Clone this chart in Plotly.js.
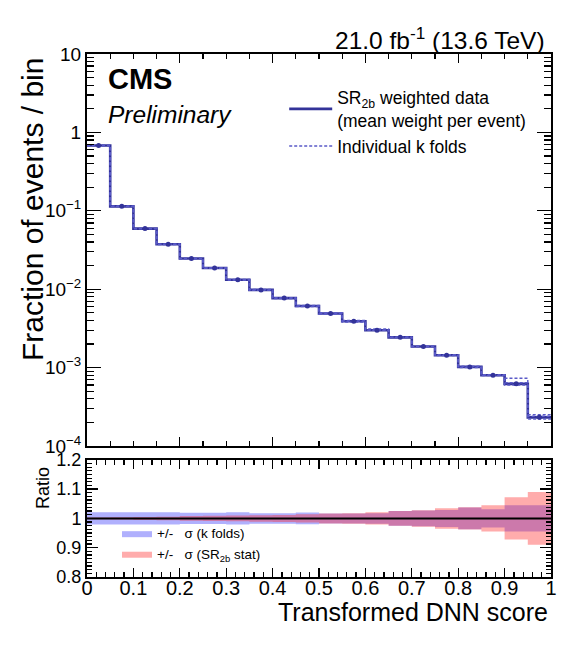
<!DOCTYPE html>
<html>
<head>
<meta charset="utf-8">
<script src="https://cdn.plot.ly/plotly-3.0.1.min.js"></script>
<style>html,body{margin:0;padding:0;background:#fff;}#chart{width:580px;height:654px;}</style>
</head>
<body>
<div id="chart"></div>
<script>
// ---- data ----
const binEdges = [0,0.05,0.1,0.15,0.2,0.25,0.3,0.35,0.4,0.45,0.5,0.55,0.6,0.65,0.7,0.75,0.8,0.85,0.9,0.95,1.0];
const meanFrac = [0.68,0.114,0.0593,0.0374,0.0246,0.0186,0.0132,0.0098,0.0077,0.0061,0.0049,0.0039,0.0030,0.00243,0.00186,0.00144,0.00102,0.00080,0.00062,0.000232];
const foldFrac1 = [0.675,0.115,0.0590,0.0376,0.0245,0.0187,0.0131,0.0099,0.0076,0.0062,0.0049,0.0039,0.0030,0.00245,0.00185,0.00145,0.00104,0.00081,0.00073,0.00024];
const foldFrac2 = [0.685,0.113,0.0596,0.0372,0.0247,0.0185,0.0133,0.0097,0.0078,0.0060,0.0050,0.0038,0.0031,0.00241,0.00188,0.00142,0.00100,0.00079,0.00060,0.00022];
const foldFrac3 = [0.680,0.114,0.0592,0.0375,0.0246,0.0186,0.0132,0.0098,0.0077,0.0061,0.0048,0.0040,0.0030,0.00244,0.00186,0.00146,0.00101,0.00080,0.00064,0.00025];
const sigmaFolds = [0.021,0.021,0.021,0.021,0.019,0.019,0.021,0.018,0.018,0.020,0.017,0.017,0.018,0.025,0.027,0.029,0.037,0.031,0.045,0.045];
const sigmaStat  = [0.003,0.004,0.005,0.006,0.008,0.009,0.010,0.011,0.012,0.014,0.017,0.018,0.021,0.025,0.028,0.035,0.038,0.045,0.072,0.090];
const yTickVals = [1e-4,1e-3,1e-2,1e-1,1,10];
const yTickText = ['10<sup>−4</sup>','10<sup>−3</sup>','10<sup>−2</sup>','10<sup>−1</sup>','1','10'];

const FONT = 'Liberation Sans, Arial, Helvetica, sans-serif';
const step = v => v.concat([v[v.length-1]]);
const centers = binEdges.slice(0,-1).map((e,i)=> (e+binEdges[i+1])/2);
const ratioMean = meanFrac.map(v => v/v);

const blue = '#333399';
const traces = [
  {x: binEdges, y: step(meanFrac), mode:'lines', line:{shape:'hv', color:blue, width:2.6},
   name:'SR<sub>2b</sub> weighted data<br>(mean weight per event)', xaxis:'x', yaxis:'y', legend:'legend', hoverinfo:'skip'},
  {x: binEdges, y: step(foldFrac1), mode:'lines', line:{shape:'hv', color:'#5a5ac8', width:1.4, dash:'3px,2px'},
   name:'Individual k folds', xaxis:'x', yaxis:'y', legend:'legend', hoverinfo:'skip'},
  {x: binEdges, y: step(foldFrac2), mode:'lines', line:{shape:'hv', color:'#5a5ac8', width:1.4, dash:'3px,2px'},
   showlegend:false, xaxis:'x', yaxis:'y', hoverinfo:'skip'},
  {x: binEdges, y: step(foldFrac3), mode:'lines', line:{shape:'hv', color:'#5a5ac8', width:1.4, dash:'3px,2px'},
   showlegend:false, xaxis:'x', yaxis:'y', hoverinfo:'skip'},
  {x: centers, y: meanFrac, mode:'markers', marker:{color:blue, size:5},
   showlegend:false, xaxis:'x', yaxis:'y', hoverinfo:'skip'},
  // ratio panel bands
  {x: binEdges, y: step(sigmaFolds.map(s=>1-s)), mode:'lines', line:{shape:'hv', width:0, color:'rgba(0,0,0,0)'},
   showlegend:false, xaxis:'x2', yaxis:'y2', hoverinfo:'skip'},
  {x: binEdges, y: step(sigmaFolds.map(s=>1+s)), mode:'lines', line:{shape:'hv', width:0, color:'rgba(0,0,0,0)'},
   fill:'tonexty', fillcolor:'rgba(30,30,250,0.35)', name:'+/-\u00A0\u00A0\u00A0σ (k folds)', xaxis:'x2', yaxis:'y2', legend:'legend2', hoverinfo:'skip'},
  {x: binEdges, y: step(sigmaStat.map(s=>1-s)), mode:'lines', line:{shape:'hv', width:0, color:'rgba(0,0,0,0)'},
   showlegend:false, xaxis:'x2', yaxis:'y2', hoverinfo:'skip'},
  {x: binEdges, y: step(sigmaStat.map(s=>1+s)), mode:'lines', line:{shape:'hv', width:0, color:'rgba(0,0,0,0)'},
   fill:'tonexty', fillcolor:'rgba(255,25,25,0.36)', name:'+/-\u00A0\u00A0\u00A0σ (SR<sub>2b</sub> stat)', xaxis:'x2', yaxis:'y2', legend:'legend2', hoverinfo:'skip'},
  {x: binEdges, y: step(ratioMean), mode:'lines', line:{shape:'hv', color:'#000', width:2},
   showlegend:false, xaxis:'x2', yaxis:'y2', hoverinfo:'skip'}
];

const axBase = {showline:true, linecolor:'#000', linewidth:2, mirror:'ticks', ticks:'inside', tickcolor:'#000',
  tickwidth:1.3, showgrid:false, zeroline:false, tickfont:{family:FONT, size:20, color:'#000'}};

const layout = {
  width:580, height:654,
  margin:{l:87, r:29, t:54, b:77},
  paper_bgcolor:'#fff', plot_bgcolor:'#fff',
  font:{family:FONT, color:'#000'},
  showlegend:true,
  xaxis: Object.assign({}, axBase, {domain:[0,1], anchor:'y', range:[0,1], dtick:0.2, tick0:0, ticklen:9,
    showticklabels:false, minor:{ticks:'inside', dtick:0.05, ticklen:5, tickcolor:'#000', tickwidth:1.3}}),
  yaxis: Object.assign({}, axBase, {domain:[0.2505,1], anchor:'x', type:'log', range:[-4,1],
    tickmode:'array', tickvals:yTickVals, ticktext:yTickText, ticklen:14,
    tickfont:{family:FONT, size:19, color:'#000'},
    minor:{ticks:'inside', dtick:'D1', ticklen:7, tickcolor:'#000', tickwidth:1.3}}),
  xaxis2: Object.assign({}, axBase, {domain:[0,1], anchor:'y2', range:[0,1], dtick:0.1, tick0:0, ticklen:9,
    ticklabelstandoff:-8,
    minor:{ticks:'inside', dtick:0.02, ticklen:5, tickcolor:'#000', tickwidth:1.3}}),
  yaxis2: Object.assign({}, axBase, {domain:[0,0.224], anchor:'x2', range:[0.8,1.2], dtick:0.1, tick0:0.8, ticklen:11,
    tickfont:{family:FONT, size:18, color:'#000'},
    minor:{ticks:'inside', dtick:0.0125, ticklen:5, tickcolor:'#000', tickwidth:1.3}}),
  legend: {x:0.425, y:0.951, xanchor:'left', yanchor:'top', bgcolor:'rgba(0,0,0,0)', borderwidth:0,
    itemwidth:43, font:{family:FONT, size:17.5, color:'#000'}, tracegroupgap:0, traceorder:'normal'},
  legend2: {x:0.0647, y:0.113, xanchor:'left', yanchor:'top', bgcolor:'rgba(0,0,0,0)', borderwidth:0,
    itemwidth:30, font:{family:FONT, size:13.5, color:'#000'}, tracegroupgap:0, traceorder:'normal'},
  annotations: [
    {text:'<b>CMS</b>', xref:'paper', yref:'paper', x:0.041, y:0.952, xanchor:'left', yanchor:'middle',
     showarrow:false, font:{family:FONT, size:29, color:'#000'}},
    {text:'<i>Preliminary</i>', xref:'paper', yref:'paper', x:0.041, y:0.885, xanchor:'left', yanchor:'middle',
     showarrow:false, font:{family:FONT, size:24.5, color:'#000'}},
    {text:'21.0 fb<sup>-1</sup> (13.6 TeV)', xref:'paper', yref:'paper', x:0.991, y:1.0296, xanchor:'right', yanchor:'middle',
     showarrow:false, font:{family:FONT, size:24.5, color:'#000'}},
    {text:'Fraction of events / bin', xref:'paper', yref:'paper', x:-0.1185, y:0.7036, xanchor:'center', yanchor:'middle',
     textangle:-90, showarrow:false, font:{family:FONT, size:30, color:'#000'}},
    {text:'Ratio', xref:'paper', yref:'paper', x:-0.0948, y:0.170, xanchor:'center', yanchor:'middle',
     textangle:-90, showarrow:false, font:{family:FONT, size:18, color:'#000'}},
    {text:'Transformed DNN score', xref:'paper', yref:'paper', x:0.998, y:-0.067, xanchor:'right', yanchor:'middle',
     showarrow:false, font:{family:FONT, size:25, color:'#000'}}
  ]
};

Plotly.newPlot('chart', traces, layout, {displayModeBar:false, staticPlot:true});
</script>
</body>
</html>
